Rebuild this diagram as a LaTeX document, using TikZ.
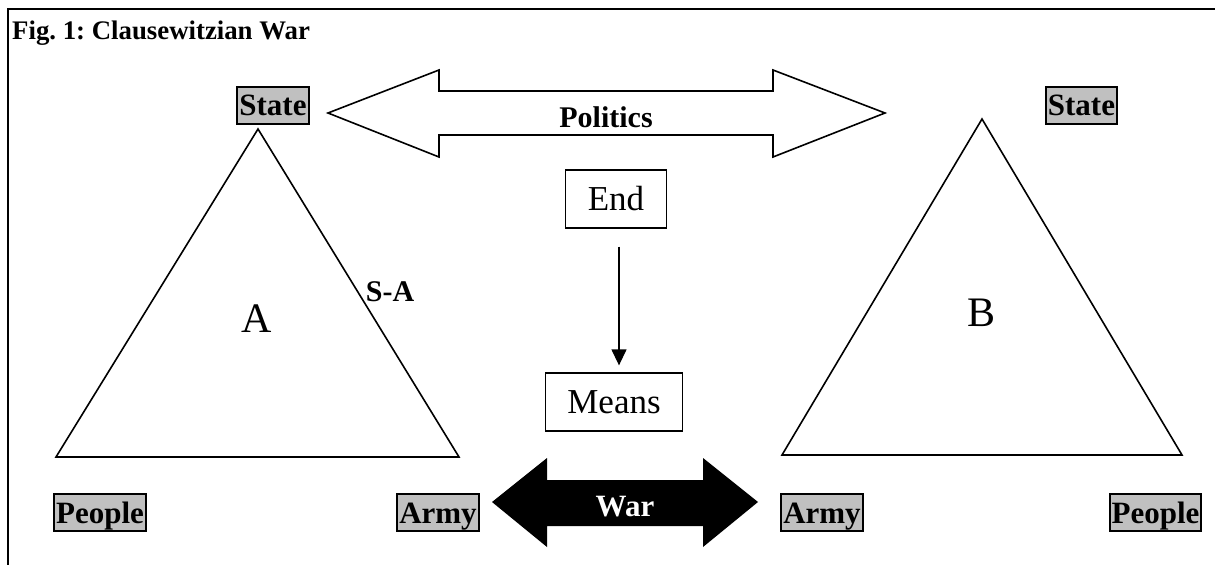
\documentclass[tikz,border=0pt]{standalone}
\usepackage{fontspec}
\setmainfont{Liberation Serif}
\usetikzlibrary{arrows.meta}
\definecolor{lgray}{RGB}{192,192,192}
\frenchspacing
\begin{document}
\begin{tikzpicture}[x=1pt,y=-1pt,
  lbl/.style={draw=black, line width=2pt, fill=lgray,
    font=\fontsize{31}{31}\selectfont\bfseries, inner sep=2pt,
    text height=27pt, text depth=6pt},
  plainbox/.style={draw=black, line width=1.3pt,
    font=\fontsize{35}{35}\selectfont, inner xsep=22pt,
    minimum height=58pt},
  tri/.style={draw=black, line width=1.6pt, line join=miter},
  border/.style={draw=black, line width=2.2pt},
  bigarrow/.style={draw=black, line width=1.6pt, line join=miter},
  boldtxt/.style={font=\fontsize{30}{30}\selectfont\bfseries, inner sep=0pt},
  bigletter/.style={font=\fontsize{42}{42}\selectfont, inner sep=0pt}]
\useasboundingbox (0,0) rectangle (1215,565);
% frame
\coordinate (tl) at (8,9);
\coordinate (tr) at (1215,9);
\coordinate (bl) at (8,565);
\draw[border] (tr) -- (tl) -- (bl);
% title
\node[anchor=base west, inner sep=0pt, font=\fontsize{26.8}{26.8}\selectfont\bfseries] (title) at (12,39) {Fig. 1: Clausewitzian War};
% triangles
\draw[tri] (258,129) -- (459,457) -- (56,457) -- cycle;
\draw[tri] (982,119) -- (1182,455) -- (782,455) -- cycle;
% labels
\node[lbl] (stateA) at (273,105) {State};
\node[lbl] (stateB) at (1081.5,105) {State};
\node[lbl] (peopleA) at (100,512.5) {People};
\node[lbl] (armyA) at (438,512.5) {Army};
\node[lbl] (armyB) at (822,512.5) {Army};
\node[lbl] (peopleB) at (1155.5,512.5) {People};
\node[bigletter] (A) at (257,319) {A};
\node[bigletter] (B) at (981,313) {B};
\node[boldtxt] (SA) at (390,292) {S-A};
% politics arrow
\draw[bigarrow, fill=white] (328,113) -- (439,70) -- (439,91) -- (773,91) -- (773,70) -- (885,113)
  -- (773,157) -- (773,135) -- (439,135) -- (439,157) -- cycle;
\node[boldtxt, anchor=base] (politics) at (606,127) {Politics};
% war arrow
\fill[black] (492,502) -- (547,458) -- (547,480) -- (703,480) -- (703,458) -- (758,502)
  -- (703,547) -- (703,526) -- (547,526) -- (547,547) -- cycle;
\node[font=\fontsize{31}{31}\selectfont\bfseries, text=white, anchor=base, inner sep=0pt] (war) at (625,516) {War};
% end / means
\node[plainbox] (end) at (616,199) {End};
\node[plainbox] (means) at (614,402) {Means};
\draw[line width=1.3pt, -{Triangle[length=16pt,width=15pt]}, shorten <=18pt, shorten >=7pt]
  (end.south -| 619,0) -- (means.north -| 619,0);
\end{tikzpicture}
\end{document}
